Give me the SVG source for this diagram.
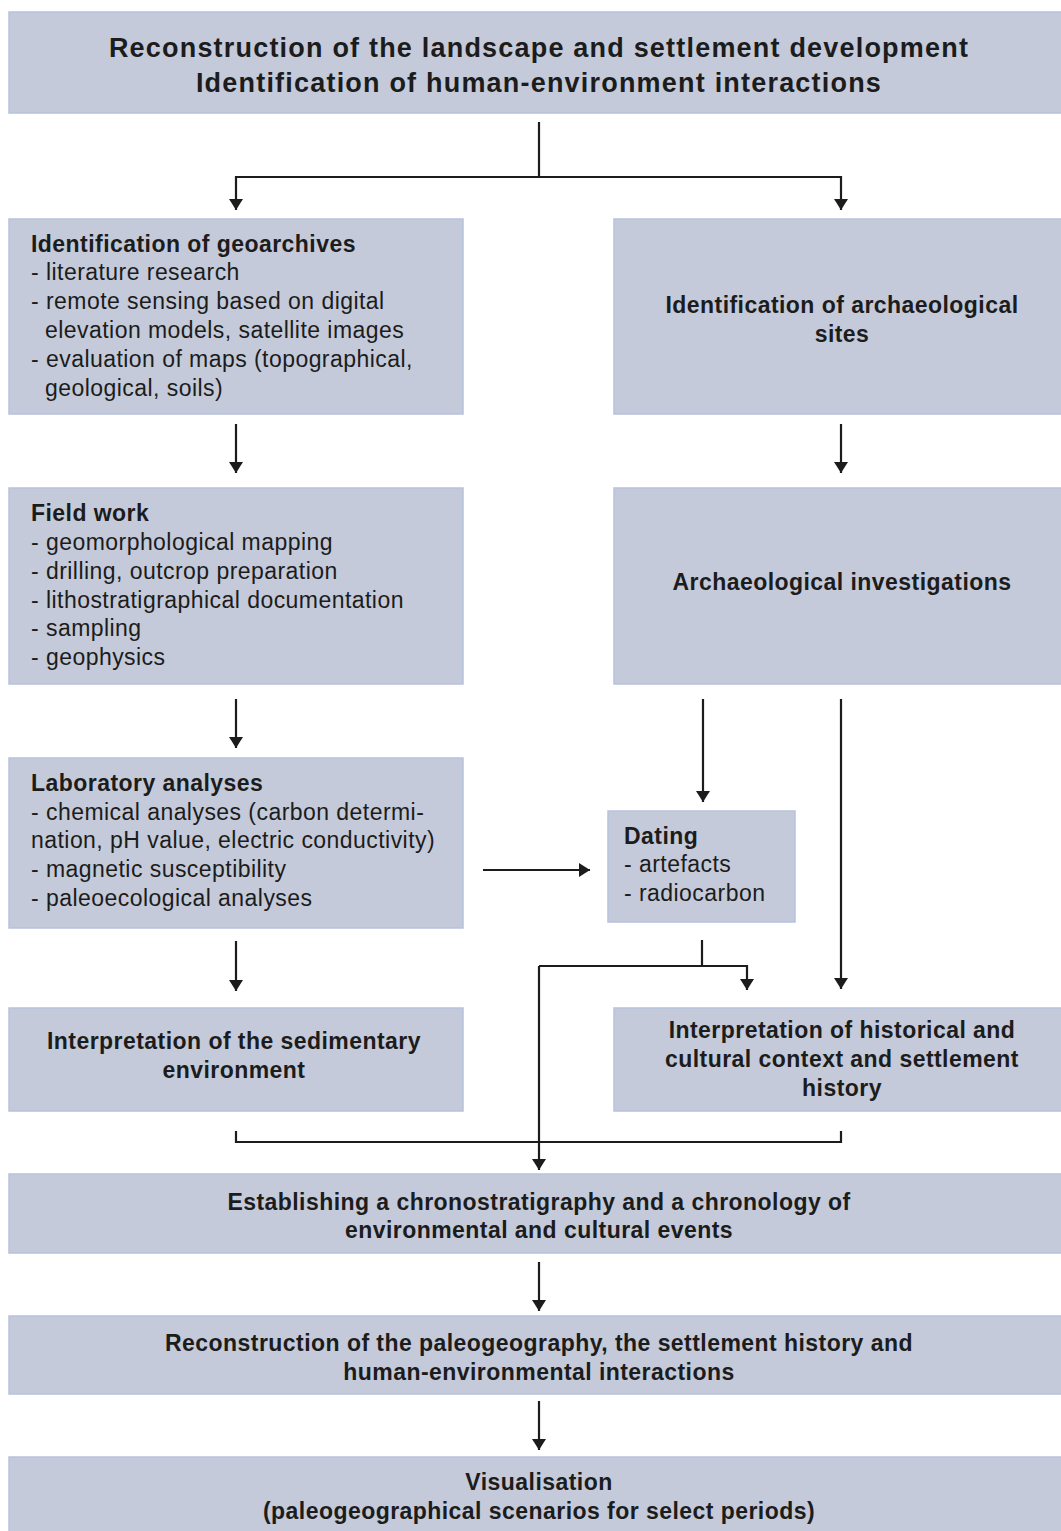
<svg xmlns="http://www.w3.org/2000/svg" width="1061" height="1531" viewBox="0 0 1061 1531">
<style>
.box{fill:#c4cad9;stroke:#b6c2dd;stroke-width:1.5}
text{font-family:"Liberation Sans",Arial,sans-serif;fill:#1c1c1c;font-size:23px;letter-spacing:0.45px}
.b{font-weight:bold}
.t{font-size:27px;font-weight:bold;letter-spacing:1.2px}
.c{text-anchor:middle}
.ln{fill:none;stroke:#1c1c1c;stroke-width:2.2}
</style>
<defs>
<marker id="ah" viewBox="0 0 11 14" refX="11" refY="7" markerWidth="11" markerHeight="14" markerUnits="userSpaceOnUse" orient="auto">
<path d="M0,0 L11,7 L0,14 Z" fill="#1c1c1c"/>
</marker>
</defs>
<rect width="1061" height="1531" fill="#ffffff"/>

<g id="n-top">
<rect class="box" x="9" y="12" width="1060" height="101"/>
<text class="t c" x="539" y="57">Reconstruction of the landscape and settlement development</text>
<text class="t c" x="539" y="92">Identification of human-environment interactions</text>
</g>

<g id="n-geoarchives">
<rect class="box" x="9" y="219" width="454" height="195"/>
<text class="b" x="31" y="252">Identification of geoarchives</text>
<text x="31" y="280">- literature research</text>
<text x="31" y="309">- remote sensing based on digital</text>
<text x="45" y="338">elevation models, satellite images</text>
<text x="31" y="367">- evaluation of maps (topographical,</text>
<text x="45" y="396">geological, soils)</text>
</g>

<g id="n-archsites">
<rect class="box" x="614" y="219" width="455" height="195"/>
<text class="b c" x="842" y="313">Identification of archaeological</text>
<text class="b c" x="842" y="342">sites</text>
</g>

<g id="n-fieldwork">
<rect class="box" x="9" y="488" width="454" height="196"/>
<text class="b" x="31" y="521">Field work</text>
<text x="31" y="550">- geomorphological mapping</text>
<text x="31" y="579">- drilling, outcrop preparation</text>
<text x="31" y="608">- lithostratigraphical documentation</text>
<text x="31" y="636">- sampling</text>
<text x="31" y="665">- geophysics</text>
</g>

<g id="n-archinv">
<rect class="box" x="614" y="488" width="455" height="196"/>
<text class="b c" x="842" y="590">Archaeological investigations</text>
</g>

<g id="n-lab">
<rect class="box" x="9" y="758" width="454" height="170"/>
<text class="b" x="31" y="791">Laboratory analyses</text>
<text x="31" y="820">- chemical analyses (carbon determi-</text>
<text x="31" y="848">nation, pH value, electric conductivity)</text>
<text x="31" y="877">- magnetic susceptibility</text>
<text x="31" y="906">- paleoecological analyses</text>
</g>

<g id="n-dating">
<rect class="box" x="608" y="811" width="187" height="111"/>
<text class="b" x="624" y="844">Dating</text>
<text x="624" y="872">- artefacts</text>
<text x="624" y="901">- radiocarbon</text>
</g>

<g id="n-sediment">
<rect class="box" x="9" y="1008" width="454" height="103"/>
<text class="b c" x="234" y="1049">Interpretation of the sedimentary</text>
<text class="b c" x="234" y="1078">environment</text>
</g>

<g id="n-historical">
<rect class="box" x="614" y="1008" width="455" height="103"/>
<text class="b c" x="842" y="1038">Interpretation of historical and</text>
<text class="b c" x="842" y="1067">cultural context and settlement</text>
<text class="b c" x="842" y="1096">history</text>
</g>

<g id="n-chrono">
<rect class="box" x="9" y="1174" width="1060" height="79"/>
<text class="b c" x="539" y="1210">Establishing a chronostratigraphy and a chronology of</text>
<text class="b c" x="539" y="1238">environmental and cultural events</text>
</g>

<g id="n-paleo">
<rect class="box" x="9" y="1316" width="1060" height="78"/>
<text class="b c" x="539" y="1351">Reconstruction of the paleogeography, the settlement history and</text>
<text class="b c" x="539" y="1380">human-environmental interactions</text>
</g>

<g id="n-vis">
<rect class="box" x="9" y="1457" width="1060" height="80"/>
<text class="b c" x="539" y="1490">Visualisation</text>
<text class="b c" x="539" y="1519">(paleogeographical scenarios for select periods)</text>
</g>

<g id="connectors">
<path class="ln" d="M539,122 V177"/>
<path class="ln" d="M539,177 H236 V210" marker-end="url(#ah)"/>
<path class="ln" d="M539,177 H841 V210" marker-end="url(#ah)"/>
<path class="ln" d="M236,424 V473" marker-end="url(#ah)"/>
<path class="ln" d="M841,424 V473" marker-end="url(#ah)"/>
<path class="ln" d="M236,699 V748" marker-end="url(#ah)"/>
<path class="ln" d="M703,699 V802" marker-end="url(#ah)"/>
<path class="ln" d="M841,699 V989" marker-end="url(#ah)"/>
<path class="ln" d="M483,870 H590" marker-end="url(#ah)"/>
<path class="ln" d="M236,941 V991" marker-end="url(#ah)"/>
<path class="ln" d="M702,940 V966"/>
<path class="ln" d="M539,966 H747 V990" marker-end="url(#ah)"/>
<path class="ln" d="M539,966 V1170" marker-end="url(#ah)"/>
<path class="ln" d="M236,1131 V1142 H841 V1131"/>
<path class="ln" d="M539,1262 V1311" marker-end="url(#ah)"/>
<path class="ln" d="M539,1401 V1450" marker-end="url(#ah)"/>
</g>
</svg>
